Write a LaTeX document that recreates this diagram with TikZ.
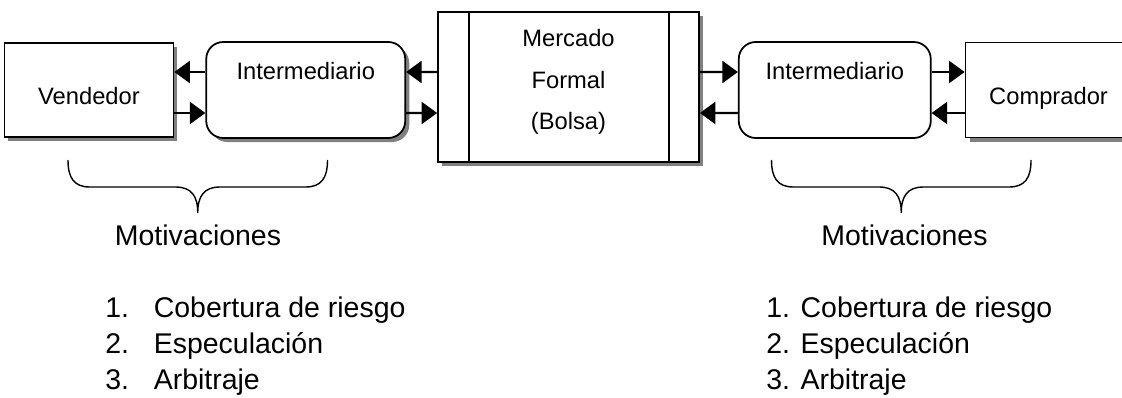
\documentclass[tikz,border=0pt]{standalone}
\usepackage{fontspec}
\setmainfont{Liberation Sans}
\usetikzlibrary{shapes, arrows.meta, positioning, shadows}
\tikzstyle{arrow} = [line width=1.2pt, -{Triangle[length=3.1mm, width=4.4mm]}]
\tikzstyle{boxNode} = [
                rectangle,
                draw=black,
                line width=1pt,
                fill=white,
                inner sep=0pt,
                font=\fontsize{13.5}{16.2}\selectfont
            ]
\tikzstyle{roundNode} = [boxNode, rounded corners=0.34cm, minimum width=3.98cm, minimum height=1.92cm]
\tikzstyle{shadowed} = [drop shadow={shadow xshift=0.8mm, shadow yshift=-0.8mm, fill=gray, opacity=1}]
\tikzstyle{bigText} = [font=\fontsize{16.2}{20.4}\selectfont, inner sep=0pt]
\newcommand{\liftText}[2]{\raisebox{#1}[0pt][0pt]{#2}}

\begin{document}
\begin{tikzpicture}[node distance=0.62cm]
    \useasboundingbox (0,0) rectangle (22.44,-7.94);
    % boxes
    \node (merc) [boxNode, shadowed, minimum width=5.22cm, minimum height=3cm, align=center] at (11.37,-1.74)
        {Mercado\\[7.3pt]Formal\\[7.3pt](Bolsa)\rule[-8.6pt]{0pt}{1pt}};
    \node (intl) [roundNode, shadowed, left=of merc, yshift=-0.06cm] {\liftText{6pt}{Intermediario}};
    \node (vend) [boxNode, shadowed, left=of intl, minimum width=3.38cm, minimum height=1.88cm] {\liftText{-8pt}{Vendedor}};
    \node (intr) [roundNode, minimum width=3.84cm, right=0.76cm of merc, yshift=-0.06cm] {\liftText{6pt}{Intermediario}};
    \node (comp) [boxNode, shadowed, right=0.66cm of intr, minimum width=3.32cm, minimum height=1.9cm] {\liftText{-8.5pt}{Comprador}};
    \draw [line width=1pt] ([xshift=6.4mm]merc.north west) -- ([xshift=6.4mm]merc.south west);
    \draw [line width=1pt] ([xshift=-6.2mm]merc.north east) -- ([xshift=-6.2mm]merc.south east);
    % arrows
    \draw [arrow] ([yshift=3.6mm]intl.west) -- ([yshift=3.6mm]vend.east);
    \draw [arrow] ([yshift=-4.6mm]vend.east) -- ([yshift=-4.6mm]intl.west);
    \draw [arrow] ([yshift=3mm]merc.west) -- ([yshift=3.6mm]intl.east);
    \draw [arrow] ([yshift=-4.6mm]intl.east) -- ([yshift=-5.2mm]merc.west);
    \draw [arrow] ([yshift=3mm]merc.east) -- ([yshift=3.6mm]intr.west);
    \draw [arrow] ([yshift=-4.6mm]intr.west) -- ([yshift=-5.2mm]merc.east);
    \draw [arrow] ([yshift=3.6mm]intr.east) -- ([yshift=3.6mm]comp.west);
    \draw [arrow] ([yshift=-4.6mm]comp.west) -- ([yshift=-4.6mm]intr.east);
    % braces
    \tikzset{motBrace/.pic={
        \draw [line width=0.8pt] (0,0) .. controls (0,-0.36) and (0.12,-0.54) .. (0.44,-0.54) -- (2.15,-0.54)
            .. controls (2.47,-0.54) and (2.595,-0.72) .. (2.595,-1.06)
            .. controls (2.595,-0.72) and (2.72,-0.54) .. (3.04,-0.54) -- (4.75,-0.54)
            .. controls (5.07,-0.54) and (5.19,-0.36) .. (5.19,0);
    }}
    \pic at (1.36,-3.2) {motBrace};
    \pic at (15.43,-3.2) {motBrace};
    % motivaciones
    \node (motl) [bigText, anchor=base] at (3.96,-4.9) {Motivaciones};
    \node (motr) [bigText, anchor=base] at (18.09,-4.9) {Motivaciones};
    \node (listl) [bigText, anchor=base west, align=left] at (2.10,-7.78)
        {\makebox[27.6pt][l]{1.}Cobertura de riesgo\\\makebox[27.6pt][l]{2.}Especulación\\\makebox[27.6pt][l]{3.}Arbitraje};
    \node (listr) [bigText, anchor=base west, align=left] at (15.32,-7.78)
        {1. Cobertura de riesgo\\2. Especulación\\3. Arbitraje};
\end{tikzpicture}
\end{document}
